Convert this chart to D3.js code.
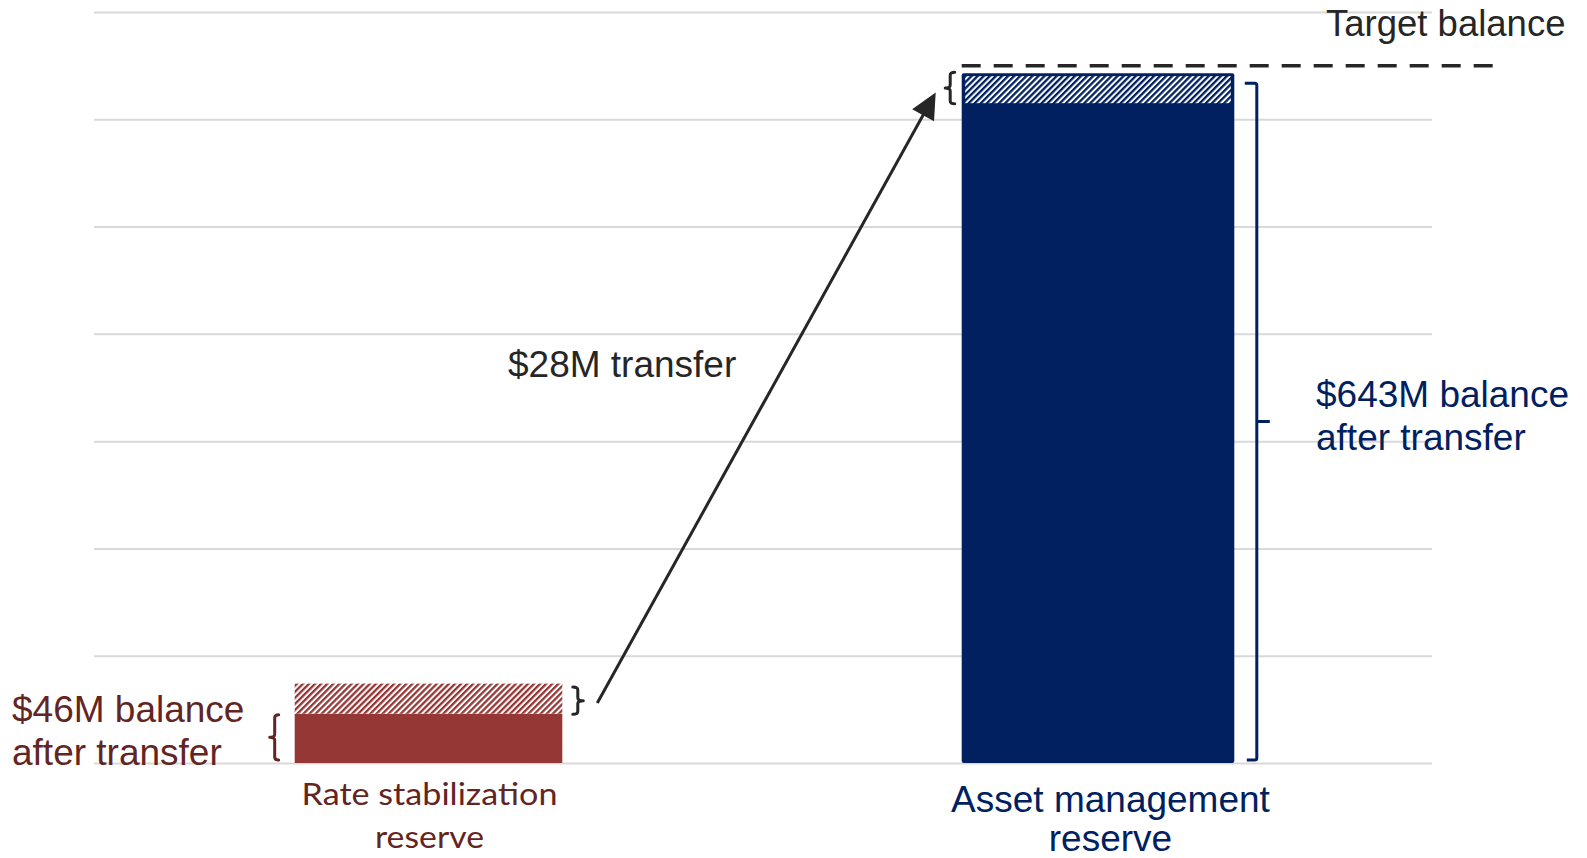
<!DOCTYPE html>
<html>
<head>
<meta charset="utf-8">
<script src="https://cdn.jsdelivr.net/npm/d3@7"></script>
<style>
  html, body { margin: 0; padding: 0; background: #fff; }
  svg { display: block; }
</style>
</head>
<body>
<svg id="chart" width="1587" height="858"></svg>
<script>
// ---- data ----
const categories = ["Rate stabilization reserve", "Asset management reserve"];
const categoryLines = [["Rate stabilization", "reserve"], ["Asset management", "reserve"]];
const solidValues = [46, 615];        // portion shown solid
const hatchValues = [28, 28];         // transferred amount (hatched)
const balanceAfter = [46, 643];       // balance after transfer
const transferAmount = 28;
const targetBalance = 650;
const gridTicks = [0, 100, 200, 300, 400, 500, 600, 700];

(function () {
// ---- styles ----
const RED = "#953735", RED_TEXT = "#632523", NAVY = "#002060", DARK = "#262626";
const FONT = "'Liberation Sans', Arial, sans-serif";

const svg = d3.select("#chart");
const pLeft = 94, pRight = 1432, pTop = 12, pBottom = 763;

const x = d3.scaleBand().domain(categories).range([pLeft, pRight]).paddingInner(0.6).paddingOuter(0.3);
const y = d3.scaleLinear().domain([0, 700]).range([pBottom, pTop]);

// patterns
const defs = svg.append("defs");
function hatch(id, color) {
  const p = defs.append("pattern").attr("id", id).attr("patternUnits", "userSpaceOnUse")
    .attr("width", 4.3).attr("height", 4.3).attr("patternTransform", "rotate(45)");
  p.append("rect").attr("width", 4.3).attr("height", 4.3).attr("fill", "#fff");
  p.append("rect").attr("x", 0).attr("width", 2.3).attr("height", 4.3).attr("fill", color);
}
hatch("hRed", RED);
hatch("hNavy", NAVY);

// gridlines
const grid = svg.append("g").attr("transform", `translate(${pLeft},0)`)
  .call(d3.axisLeft(y).tickValues(gridTicks).tickSize(-(pRight - pLeft)).tickFormat(""));
grid.select(".domain").remove();
grid.selectAll(".tick line").attr("stroke", "#d9d9d9").attr("stroke-width", 2);

// bars
const c0 = categories[0], c1 = categories[1];
svg.append("rect").attr("x", x(c0)).attr("width", x.bandwidth())
  .attr("y", y(solidValues[0])).attr("height", y(0) - y(solidValues[0])).attr("fill", RED);
svg.append("rect").attr("x", x(c0)).attr("width", x.bandwidth())
  .attr("y", y(solidValues[0] + hatchValues[0])).attr("height", y(solidValues[0]) - y(solidValues[0] + hatchValues[0]))
  .attr("fill", "url(#hRed)");
const bx = x(c1) - 2, bw = x.bandwidth() + 5;
svg.append("rect").attr("x", bx).attr("width", bw)
  .attr("y", y(solidValues[1] + hatchValues[1])).attr("height", y(0) - y(solidValues[1] + hatchValues[1]))
  .attr("rx", 2).attr("fill", NAVY);
svg.append("rect").attr("x", bx + 3.5).attr("width", bw - 7)
  .attr("y", y(solidValues[1] + hatchValues[1]) + 3).attr("height", y(solidValues[1]) - y(solidValues[1] + hatchValues[1]) - 3)
  .attr("fill", "url(#hNavy)");

// target dashed line
svg.append("line").attr("x1", bx).attr("x2", pRight + 61)
  .attr("y1", y(targetBalance)).attr("y2", y(targetBalance))
  .attr("stroke", DARK).attr("stroke-width", 3.5).attr("stroke-dasharray", "19,13");
svg.append("text").attr("x", 1326).attr("y", 36).attr("font-family", FONT).attr("font-size", 36.5)
  .attr("fill", DARK).text("Target balance");

// braces
function brace(xs, y0, y1, dir, color, hook, tip) {
  const ym = (y0 + y1) / 2, r = 3;
  const h = -dir * hook, d = dir * tip;
  const path = `M${xs + h},${y0} Q${xs},${y0} ${xs},${y0 + r} L${xs},${ym - r} Q${xs},${ym} ${xs + d},${ym} ` +
               `Q${xs},${ym} ${xs},${ym + r} L${xs},${y1 - r} Q${xs},${y1} ${xs + h},${y1}`;
  svg.append("path").attr("d", path).attr("fill", "none").attr("stroke", color)
    .attr("stroke-width", 3).attr("stroke-linecap", "round").attr("stroke-linejoin", "round");
}
brace(x(c0) - 20, y(balanceAfter[0]) + 1, y(0) - 3, -1, RED_TEXT, 4, 5);
brace(x(c0) + x.bandwidth() + 15.5, y(solidValues[0] + hatchValues[0]) + 3.5, y(solidValues[0]) + 0.5, 1, DARK, 5, 5.5);
brace(bx - 11.5, y(balanceAfter[1]) - 1, y(balanceAfter[1] - transferAmount) + 0.5, -1, DARK, 4.5, 5);

// navy bracket on the right
const bkX = bx + bw + 22.5, bkT = y(balanceAfter[1]) + 10, bkB = y(0) - 3;
svg.append("path")
  .attr("d", `M${bkX - 12},${bkT} L${bkX - 2},${bkT} Q${bkX},${bkT} ${bkX},${bkT + 2} L${bkX},${bkB - 2} Q${bkX},${bkB} ${bkX - 2},${bkB} L${bkX - 10},${bkB}` +
             ` M${bkX},${(bkT + bkB) / 2} L${bkX + 13},${(bkT + bkB) / 2}`)
  .attr("fill", "none").attr("stroke", NAVY).attr("stroke-width", 3);

// transfer arrow
const ax0 = x(c0) + x.bandwidth() + 35, ay0 = y(56);
const ax1 = bx - 26, ay1 = y(625);
const ang = Math.atan2(ay1 - ay0, ax1 - ax0);
const headL = 26, headW = 12.5;
const bxm = ax1 - headL * Math.cos(ang), bym = ay1 - headL * Math.sin(ang);
svg.append("line").attr("x1", ax0).attr("y1", ay0).attr("x2", bxm + 3 * Math.cos(ang)).attr("y2", bym + 3 * Math.sin(ang))
  .attr("stroke", DARK).attr("stroke-width", 3);
svg.append("path").attr("d",
  `M${ax1},${ay1} L${bxm + headW * Math.sin(ang)},${bym - headW * Math.cos(ang)} L${bxm - headW * Math.sin(ang)},${bym + headW * Math.cos(ang)} Z`)
  .attr("fill", DARK);

// annotation texts
svg.append("text").attr("x", 508).attr("y", 376.5).attr("font-family", FONT).attr("font-size", 37)
  .attr("fill", DARK).text(`$${transferAmount}M transfer`);

const t1 = svg.append("text").attr("font-family", FONT).attr("font-size", 37).attr("fill", NAVY);
t1.append("tspan").attr("x", 1316).attr("y", 406.5).text(`$${balanceAfter[1]}M balance`);
t1.append("tspan").attr("x", 1316).attr("y", 450).text("after transfer");

const t0 = svg.append("text").attr("font-family", FONT).attr("font-size", 37).attr("fill", RED_TEXT);
t0.append("tspan").attr("x", 12).attr("y", 721.5).text(`$${balanceAfter[0]}M balance`);
t0.append("tspan").attr("x", 12).attr("y", 765).text("after transfer");

// category labels
const lab0 = svg.append("text").attr("text-anchor", "middle")
  .attr("font-family", "Lato, 'DejaVu Sans', sans-serif").attr("font-size", 30).attr("fill", RED_TEXT);
lab0.append("tspan").attr("x", x(c0) + x.bandwidth() / 2 + 1).attr("y", 805)
  .attr("textLength", 256).attr("lengthAdjust", "spacingAndGlyphs").text(categoryLines[0][0]);
lab0.append("tspan").attr("x", x(c0) + x.bandwidth() / 2 + 1).attr("y", 848)
  .attr("textLength", 109).attr("lengthAdjust", "spacingAndGlyphs").text(categoryLines[0][1]);

const lab1 = svg.append("text").attr("text-anchor", "middle")
  .attr("font-family", FONT).attr("font-size", 37).attr("fill", NAVY);
lab1.append("tspan").attr("x", x(c1) + x.bandwidth() / 2 + 13).attr("y", 811.5).text(categoryLines[1][0]);
lab1.append("tspan").attr("x", x(c1) + x.bandwidth() / 2 + 13).attr("y", 851).text(categoryLines[1][1]);
})();
</script>
</body>
</html>
